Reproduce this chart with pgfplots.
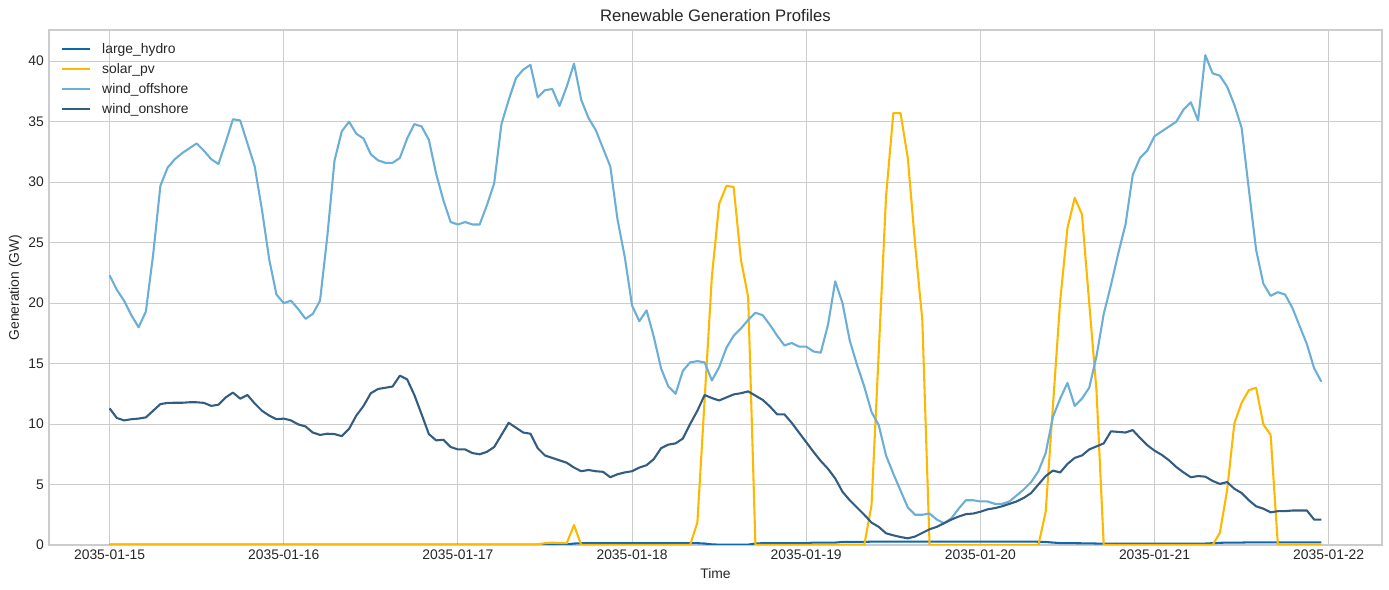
\documentclass[border=0pt]{standalone}
\usepackage{fontspec}
\setmainfont{Liberation Sans}
\usepackage{pgfplots}
\usepackage{pgfplotstable}
\pgfplotsset{compat=1.18}

\definecolor{hydro}{RGB}{14,104,176}
\definecolor{solar}{RGB}{255,184,0}
\definecolor{offshore}{RGB}{107,174,214}
\definecolor{onshore}{RGB}{50,92,130}
\definecolor{gridgray}{RGB}{204,204,204}
\definecolor{txt}{RGB}{38,38,38}

% hourly generation in GW, hour 0 = 2035-01-15 00:00
\pgfplotstableread{
h hydro solar off on
0 0.02 0 22.3 11.3
1 0.02 0 21.1 10.5
2 0.02 0 20.2 10.3
3 0.02 0 19.0 10.4
4 0.02 0 18.0 10.45
5 0.02 0 19.3 10.55
6 0.02 0 24.0 11.1
7 0.02 0 29.7 11.65
8 0.02 0 31.2 11.75
9 0.02 0 31.9 11.76
10 0.02 0 32.4 11.76
11 0.02 0 32.8 11.8
12 0.02 0 33.2 11.8
13 0.02 0 32.6 11.75
14 0.02 0 31.9 11.5
15 0.02 0 31.5 11.6
16 0.02 0 33.3 12.2
17 0.02 0 35.2 12.6
18 0.02 0 35.1 12.1
19 0.02 0 33.2 12.4
20 0.02 0 31.3 11.7
21 0.02 0 27.7 11.1
22 0.02 0 23.6 10.7
23 0.02 0 20.7 10.4
24 0.02 0 20.0 10.45
25 0.02 0 20.2 10.3
26 0.02 0 19.5 9.97
27 0.02 0 18.7 9.8
28 0.02 0 19.1 9.3
29 0.02 0 20.2 9.1
30 0.02 0 25.5 9.2
31 0.02 0 31.8 9.17
32 0.02 0 34.2 9.0
33 0.02 0 35.0 9.6
34 0.02 0 34.0 10.7
35 0.02 0 33.6 11.5
36 0.02 0 32.3 12.55
37 0.02 0 31.8 12.9
38 0.02 0 31.6 13.0
39 0.02 0 31.6 13.1
40 0.02 0 32.0 14.0
41 0.02 0 33.6 13.7
42 0.02 0 34.8 12.4
43 0.02 0 34.6 10.8
44 0.02 0 33.5 9.17
45 0.02 0 30.7 8.65
46 0.02 0 28.5 8.7
47 0.02 0 26.7 8.1
48 0.02 0 26.5 7.9
49 0.02 0 26.7 7.9
50 0.02 0 26.5 7.6
51 0.02 0 26.5 7.5
52 0.02 0 28.1 7.7
53 0.02 0 29.9 8.1
54 0.02 0 34.8 9.1
55 0.02 0 36.8 10.1
56 0.02 0 38.6 9.7
57 0.02 0 39.3 9.3
58 0.02 0 39.7 9.2
59 0.02 0.05 37.0 8.0
60 0.02 0.15 37.6 7.4
61 0.02 0.2 37.7 7.2
62 0.02 0.15 36.3 7.0
63 0.05 0.15 37.9 6.8
64 0.12 1.65 39.8 6.4
65 0.15 0 36.8 6.1
66 0.15 0 35.3 6.2
67 0.15 0 34.3 6.1
68 0.15 0 32.8 6.05
69 0.15 0 31.3 5.6
70 0.15 0 26.9 5.85
71 0.15 0 23.8 6.0
72 0.15 0 19.8 6.1
73 0.15 0 18.5 6.4
74 0.15 0 19.4 6.6
75 0.15 0 17.2 7.1
76 0.15 0 14.6 8.0
77 0.15 0 13.1 8.3
78 0.15 0 12.5 8.4
79 0.15 0 14.4 8.8
80 0.15 0 15.1 10.0
81 0.15 1.85 15.2 11.1
82 0.12 12.0 15.1 12.4
83 0.05 22.2 13.6 12.15
84 0.03 28.2 14.7 11.95
85 0.03 29.7 16.3 12.2
86 0.03 29.6 17.3 12.45
87 0.03 23.6 17.9 12.55
88 0.03 20.5 18.6 12.7
89 0.12 0 19.2 12.35
90 0.15 0 19.0 12.0
91 0.15 0 18.2 11.45
92 0.15 0 17.3 10.8
93 0.15 0 16.5 10.8
94 0.15 0 16.7 10.1
95 0.15 0 16.4 9.3
96 0.15 0 16.4 8.5
97 0.2 0 16.0 7.7
98 0.2 0 15.9 6.95
99 0.2 0 18.2 6.3
100 0.2 0 21.8 5.5
101 0.25 0 20.0 4.4
102 0.25 0 16.9 3.7
103 0.25 0 14.9 3.1
104 0.25 0 13.1 2.5
105 0.28 3.3 11.0 1.85
106 0.28 16.0 9.9 1.5
107 0.28 28.8 7.4 0.97
108 0.28 35.7 5.9 0.8
109 0.28 35.7 4.5 0.66
110 0.28 32.0 3.1 0.55
111 0.28 24.9 2.5 0.7
112 0.28 18.6 2.5 1.0
113 0.28 0 2.6 1.3
114 0.28 0 2.1 1.5
115 0.28 0 1.8 1.8
116 0.28 0 2.2 2.1
117 0.28 0 3.0 2.35
118 0.28 0 3.7 2.55
119 0.28 0 3.7 2.6
120 0.28 0 3.6 2.75
121 0.28 0 3.6 2.95
122 0.28 0 3.4 3.05
123 0.28 0 3.4 3.2
124 0.28 0 3.6 3.4
125 0.28 0 4.1 3.6
126 0.28 0 4.6 3.9
127 0.28 0 5.2 4.3
128 0.27 0 6.1 5.0
129 0.25 2.75 7.6 5.7
130 0.2 11.5 10.6 6.15
131 0.16 20.2 12.1 6.0
132 0.15 26.2 13.4 6.7
133 0.15 28.7 11.5 7.2
134 0.14 27.35 12.1 7.4
135 0.14 20.0 13.0 7.9
136 0.12 12.8 15.6 8.15
137 0.11 0 19.1 8.4
138 0.11 0 21.5 9.4
139 0.11 0 24.1 9.35
140 0.11 0 26.5 9.3
141 0.11 0 30.6 9.5
142 0.11 0 32.0 8.85
143 0.11 0 32.6 8.25
144 0.11 0 33.8 7.8
145 0.11 0 34.2 7.45
146 0.11 0 34.6 7.0
147 0.11 0 35.0 6.45
148 0.11 0 36.0 6.0
149 0.11 0 36.6 5.6
150 0.11 0 35.1 5.7
151 0.12 0 40.5 5.65
152 0.15 0 39.0 5.3
153 0.18 1.0 38.8 5.05
154 0.2 4.5 37.9 5.2
155 0.2 10.05 36.4 4.65
156 0.2 11.75 34.5 4.3
157 0.22 12.8 29.4 3.7
158 0.22 13.0 24.4 3.2
159 0.22 9.97 21.6 3.0
160 0.22 9.1 20.6 2.7
161 0.22 0 20.9 2.8
162 0.22 0 20.7 2.8
163 0.22 0 19.6 2.85
164 0.22 0 18.1 2.85
165 0.22 0 16.6 2.85
166 0.22 0 14.6 2.1
167 0.22 0 13.5 2.1
}\gen

\begin{document}
\begin{tikzpicture}
\path[use as bounding box] (-35.28pt,-32.4pt) rectangle (964.8pt,392.4pt);
\begin{axis}[
  at={(0,0)}, anchor=south west,
  scale only axis, width=959.76pt, height=370.8pt,
  xmin=-8.35, xmax=175.35, ymin=0, ymax=42.58,
  xtick={0,24,...,168},
  xticklabels={2035-01-15,2035-01-16,2035-01-17,2035-01-18,2035-01-19,2035-01-20,2035-01-21,2035-01-22},
  ytick={0,5,...,40},
  major tick length=0pt,
  grid=major,
  major grid style={draw=gridgray, line width=0.75pt},
  axis line style={draw=gridgray, line width=1.25pt},
  /pgf/number format/assume math mode=true,
  tick label style={font=\fontsize{10}{12}\selectfont, text=txt},
  xticklabel style={inner sep=0pt, anchor=north, yshift=-3.2pt},
  yticklabel style={inner sep=0pt, anchor=east, xshift=-3.5pt},
  title={Renewable Generation Profiles},
  every axis title shift=0pt,
  title style={font=\fontsize{12}{14}\selectfont, text=txt, at={(axis description cs:0.5,1.0162)}, anchor=base, yshift=0pt, inner sep=0pt},
  xlabel={Time},
  xlabel style={font=\fontsize{10}{12}\selectfont, text=txt, at={(axis description cs:0.5,-0.0641)}, anchor=base, inner sep=0pt},
  ylabel={Generation (GW)},
  ylabel style={font=\fontsize{10}{12}\selectfont, text=txt, at={(axis description cs:-0.0225,0.5)}, anchor=base, inner sep=0pt},
  legend cell align=left,
  legend image code/.code={\draw[#1] (0pt,1pt) -- (20pt,1pt);},
  legend style={draw=none, fill=none, at={(axis description cs:0.009,0.975)}, anchor=north west,
    inner sep=0pt, row sep=4.4pt, column sep=8pt,
    font=\fontsize{10}{12}\selectfont, text=txt,
    nodes={inner sep=0pt, text height=7.5pt, text depth=2.5pt}},
  every axis plot/.append style={line width=1.5pt, line join=round},
]
\addplot[no marks, color=hydro] table[x=h, y=hydro] {\gen};
\addlegendentry{large\_hydro}
\addplot[no marks, color=solar] table[x=h, y=solar] {\gen};
\addlegendentry{solar\_pv}
\addplot[no marks, color=offshore] table[x=h, y=off] {\gen};
\addlegendentry{wind\_offshore}
\addplot[no marks, color=onshore] table[x=h, y=on] {\gen};
\addlegendentry{wind\_onshore}
\end{axis}
\end{tikzpicture}
\end{document}
